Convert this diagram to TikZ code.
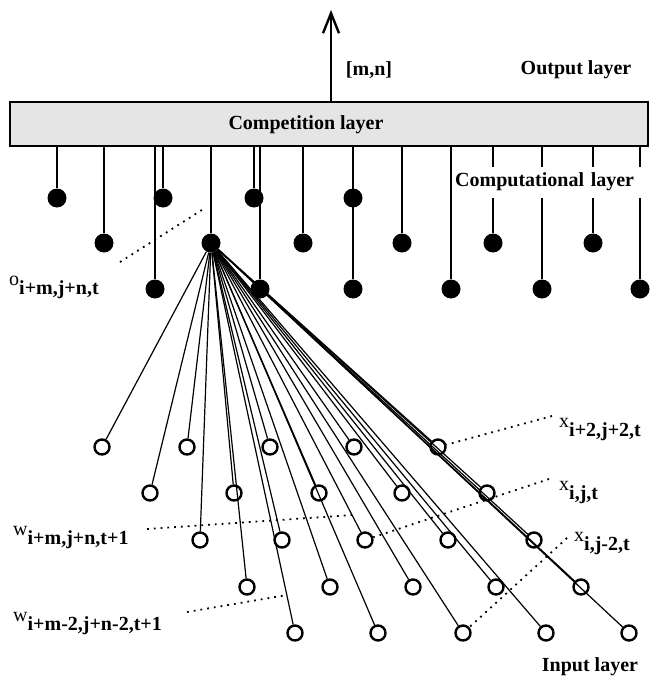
\documentclass[tikz,border=0pt]{standalone}
\usepackage{fontspec}
\setmainfont{Liberation Serif}
\usetikzlibrary{arrows.meta,calc}
\newcommand{\sublab}[2]{\raisebox{9pt}{#1}\textbf{#2}}
\begin{document}
\begin{tikzpicture}[x=1pt,y=-1pt,
 every node/.style={font=\fontsize{20}{23}\selectfont},
 layertxt/.style={font=\fontsize{20}{23}\selectfont\bfseries},
 hit/.style={circle,fill=black,inner sep=0pt,minimum size=19pt},
 inp/.style={circle,draw,line width=2.4pt,inner sep=0pt,minimum size=15pt},
 stem/.style={line width=2.8pt},
 fan/.style={line width=1.2pt},
 leader/.style={line width=1.8pt,dash pattern=on 1.8pt off 5pt},
 lbl/.style={anchor=base west,inner sep=0pt}]
\useasboundingbox (0,0) rectangle (650,677);

% competition layer
\node[draw,line width=1.5pt,fill=black!10,minimum width=638pt,minimum height=44pt,inner sep=0pt] (box) at (329,124) {};
\node[layertxt] (comp) at (306,125) {Competition layer};

% output arrow
\coordinate (tip) at (331,10);
\draw[line width=2.4pt,-{Straight Barb[length=20pt,width=16pt]}] (box.north -| tip) -- (tip);
\node[layertxt] (mn) at (369,70) {[m,n]};
\node[layertxt] (out) at (576,70) {Output layer};

% computational layer dots
\foreach \n/\x/\y in {p1/57/198,p2/163/198,p3/254/198,p4/353/198,
  q1/104/243,q2/211/243,q3/303/243,q4/402/243,q5/493/243,q6/593/243,
  s1/155/289,s2/260/289,s3/353/289,s4/451/289,s5/542/289,s6/640/289}
  \node[hit] (\n) at (\x,\y) {};
\foreach \n in {p1,p2,p3,p4,q1,q2,q3,q4,q5,q6,s1,s2,s3,s4,s5,s6}
  \draw[stem] (box.south -| \n) -- (\n);
\node[layertxt,fill=white,anchor=west,inner xsep=1pt,inner ysep=0pt,text width=190pt,minimum height=31pt] (cl) at (454,182) {Computational layer};

% input layer
\foreach \n/\x/\y in {A1/102/447,A2/187/447,A3/270/447,A4/354/447,A5/438/447,
  B1/150/493,B2/234/493,B3/319/493,B4/402/493,B5/487/493,
  C1/200/540,C2/282/540,C3/365/540,C4/448/540,C5/534/540,
  D1/247/587,D2/330/587,D3/413/587,D4/496/587,D5/581/587,
  E1/295/633,E2/378/633,E3/463/633,E4/546/633,E5/629/633}
  \node[inp] (\n) at (\x,\y) {};
\foreach \n in {A1,A2,A3,A4,A5,B1,B2,B3,B4,B5,C1,C2,C3,C4,C5,D1,D2,D3,D4,D5,E1,E2,E3,E4,E5}
  \draw[fan] (q2) -- (\n);
\node[layertxt] (inl) at (590,667) {Input layer};

% labels
\node[lbl] (ol) at (9,294) {\sublab{o}{i+m,j+n,t}};
\node[lbl] (xa) at (559,436) {\sublab{x}{i+2,j+2,t}};
\node[lbl] (xb) at (559,499) {\sublab{x}{i,j,t}};
\node[lbl] (xc) at (574,550) {\sublab{x}{i,j-2,t}};
\node[lbl] (wa) at (13,544) {\sublab{w}{i+m,j+n,t+1}};
\node[lbl] (wb) at (13,630) {\sublab{w}{i+m-2,j+n-2,t+1}};

% leaders
\coordinate (ola) at (120,262); \coordinate (olb) at (205,208);
\draw[leader] (ola) -- (olb);
\coordinate (xas) at (552,416); \draw[leader] (xas) -- (A5);
\coordinate (xbs) at (549,479); \draw[leader] (xbs) -- (C3);
\coordinate (xcs) at (567,538); \draw[leader] (xcs) -- (E3);
\coordinate (was) at (147,529); \coordinate (wae) at ($(q2)!0.916!(C3)$);
\draw[leader] (was) -- (wae);
\coordinate (wbs) at (187,612); \coordinate (wbe) at ($(q2)!0.9026!(E1)$);
\draw[leader] (wbs) -- (wbe);
\end{tikzpicture}
\end{document}
